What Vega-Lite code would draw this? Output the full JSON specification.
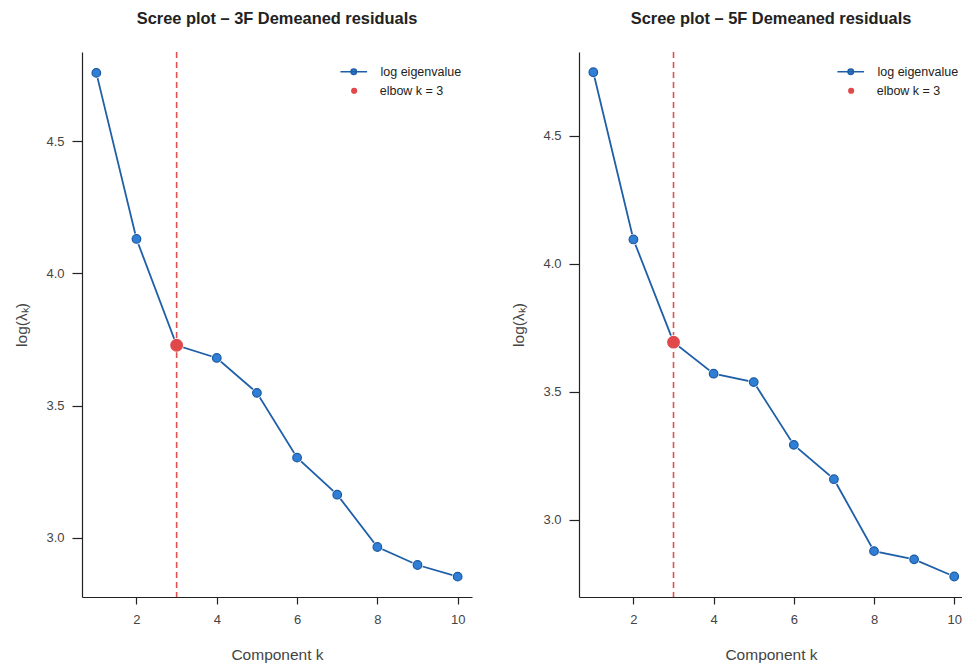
{
  "$schema": "https://vega.github.io/schema/vega-lite/v6.json",
  "padding": {"left": 14, "top": 10, "right": 0, "bottom": 0},
  "background": "white",
  "bounds": "flush",
  "spacing": 107,
  "datasets": {
    "left": [
      {"k": 1, "v": 4.758, "series": "log eigenvalue"},
      {"k": 2, "v": 4.130, "series": "log eigenvalue"},
      {"k": 3, "v": 3.728, "series": "log eigenvalue"},
      {"k": 4, "v": 3.680, "series": "log eigenvalue"},
      {"k": 5, "v": 3.548, "series": "log eigenvalue"},
      {"k": 6, "v": 3.303, "series": "log eigenvalue"},
      {"k": 7, "v": 3.163, "series": "log eigenvalue"},
      {"k": 8, "v": 2.965, "series": "log eigenvalue"},
      {"k": 9, "v": 2.897, "series": "log eigenvalue"},
      {"k": 10, "v": 2.853, "series": "log eigenvalue"},
      {"k": 3, "v": 3.728, "series": "elbow k = 3"}
    ],
    "right": [
      {"k": 1, "v": 4.748, "series": "log eigenvalue"},
      {"k": 2, "v": 4.095, "series": "log eigenvalue"},
      {"k": 3, "v": 3.694, "series": "log eigenvalue"},
      {"k": 4, "v": 3.571, "series": "log eigenvalue"},
      {"k": 5, "v": 3.538, "series": "log eigenvalue"},
      {"k": 6, "v": 3.293, "series": "log eigenvalue"},
      {"k": 7, "v": 3.159, "series": "log eigenvalue"},
      {"k": 8, "v": 2.878, "series": "log eigenvalue"},
      {"k": 9, "v": 2.846, "series": "log eigenvalue"},
      {"k": 10, "v": 2.779, "series": "log eigenvalue"},
      {"k": 3, "v": 3.694, "series": "elbow k = 3"}
    ]
  },
  "config": {
    "font": "Liberation Sans",
    "view": {"stroke": null},
    "axis": {
      "grid": false,
      "domainColor": "#222",
      "tickColor": "#222",
      "labelColor": "#444",
      "titleColor": "#444",
      "labelFont": "Liberation Sans",
      "titleFont": "Liberation Sans",
      "labelFontSize": 13,
      "titleFontSize": 15.5,
      "titleFontWeight": "normal",
      "domainWidth": 1.2,
      "tickWidth": 1.2
    },
    "axisX": {"tickSize": 7, "labelPadding": 9, "titlePadding": 21},
    "axisY": {"tickSize": 10, "labelPadding": 8, "titlePadding": 16},
    "title": {"fontSize": 16.4, "fontWeight": "bold", "color": "#222", "font": "Liberation Sans", "offset": 24},
    "legend": {
      "padding": 0,
      "rowPadding": 0,
      "labelFontSize": 12.5,
      "labelColor": "#222",
      "labelFont": "Liberation Sans"
    }
  },
  "resolve": {
    "scale": {"color": "independent", "shape": "independent"},
    "legend": {"color": "independent", "shape": "independent"}
  },
  "hconcat": [
    {
      "title": "Scree plot – 3F Demeaned residuals",
      "width": 390,
      "height": 545,
      "data": {"name": "left"},
      "layer": [
        {
          "transform": [{"filter": "datum.series === 'elbow k = 3'"}],
          "mark": {"type": "rule", "color": "#e05252", "strokeDash": [6, 4], "strokeWidth": 1.6},
          "encoding": {
            "x": {"field": "k", "type": "quantitative", "scale": {"domain": [0.643, 10.357], "nice": false, "zero": false}}
          }
        },
        {
          "transform": [{"filter": "datum.series === 'log eigenvalue'"}],
          "mark": {"type": "line", "color": "#1f5fa8", "strokeWidth": 1.8},
          "encoding": {
            "x": {"field": "k", "type": "quantitative", "scale": {"domain": [0.643, 10.357], "nice": false, "zero": false}, "axis": {"values": [2, 4, 6, 8, 10], "title": "Component k"}},
            "y": {"field": "v", "type": "quantitative", "scale": {"domain": [2.776, 4.837], "nice": false, "zero": false}, "axis": {"values": [3, 3.5, 4, 4.5], "format": ".1f", "title": "log(λₖ)"}}
          }
        },
        {
          "transform": [{"filter": "datum.series === 'log eigenvalue'"}],
          "mark": {"type": "point", "filled": true, "fill": "white", "stroke": "white", "strokeWidth": 2.6, "opacity": 1, "size": 74},
          "encoding": {
            "x": {"field": "k", "type": "quantitative"},
            "y": {"field": "v", "type": "quantitative"}
          }
        },
        {
          "transform": [{"filter": "datum.series === 'log eigenvalue'"}],
          "mark": {"type": "point", "filled": true, "stroke": "#1e5aa0", "strokeWidth": 1.2, "opacity": 1, "size": 74},
          "encoding": {
            "x": {"field": "k", "type": "quantitative"},
            "y": {"field": "v", "type": "quantitative"},
            "color": {
              "field": "series", "type": "nominal",
              "scale": {"domain": ["log eigenvalue"], "range": ["#2f7fd6"]},
              "legend": {
                "title": null,
                "orient": "none",
                "legendX": 265.5,
                "legendY": 13.5,
                "symbolType": "M-3.81,0H3.81M0.77,0A0.77,0.77,0,1,1,-0.77,0A0.77,0.77,0,1,1,0.77,0Z",
                "symbolSize": 49,
                "symbolStrokeColor": "#1f5fa8",
                "symbolStrokeWidth": 1.6,
                "labelOffset": 20.5
              }
            }
          }
        },
        {
          "transform": [{"filter": "datum.series === 'elbow k = 3'"}],
          "mark": {"type": "point", "filled": true, "fill": "white", "stroke": "white", "strokeWidth": 2.6, "opacity": 1, "size": 135},
          "encoding": {
            "x": {"field": "k", "type": "quantitative"},
            "y": {"field": "v", "type": "quantitative"}
          }
        },
        {
          "transform": [{"filter": "datum.series === 'elbow k = 3'"}],
          "mark": {"type": "point", "filled": true, "fill": "#e0484a", "stroke": "#e0484a", "strokeWidth": 1.2, "opacity": 1, "size": 135},
          "encoding": {
            "x": {"field": "k", "type": "quantitative"},
            "y": {"field": "v", "type": "quantitative"},
            "shape": {
              "field": "series", "type": "nominal",
              "scale": {"domain": ["elbow k = 3"], "range": ["circle"]},
              "legend": {
                "title": null,
                "orient": "none",
                "legendX": 265.9,
                "legendY": 32.5,
                "symbolSize": 38,
                "symbolFillColor": "#e0484a",
                "symbolStrokeColor": "#e0484a",
                "symbolStrokeWidth": 0,
                "labelOffset": 19.3
              }
            }
          }
        }
      ]
    },
    {
      "title": "Scree plot – 5F Demeaned residuals",
      "width": 384,
      "height": 545,
      "data": {"name": "right"},
      "layer": [
        {
          "transform": [{"filter": "datum.series === 'elbow k = 3'"}],
          "mark": {"type": "rule", "color": "#e05252", "strokeDash": [6, 4], "strokeWidth": 1.6},
          "encoding": {
            "x": {"field": "k", "type": "quantitative", "scale": {"domain": [0.643, 10.219], "nice": false, "zero": false}}
          }
        },
        {
          "transform": [{"filter": "datum.series === 'log eigenvalue'"}],
          "mark": {"type": "line", "color": "#1f5fa8", "strokeWidth": 1.8},
          "encoding": {
            "x": {"field": "k", "type": "quantitative", "scale": {"domain": [0.643, 10.219], "nice": false, "zero": false}, "axis": {"values": [2, 4, 6, 8, 10], "title": "Component k"}},
            "y": {"field": "v", "type": "quantitative", "scale": {"domain": [2.699, 4.827], "nice": false, "zero": false}, "axis": {"values": [3, 3.5, 4, 4.5], "format": ".1f", "title": "log(λₖ)"}}
          }
        },
        {
          "transform": [{"filter": "datum.series === 'log eigenvalue'"}],
          "mark": {"type": "point", "filled": true, "fill": "white", "stroke": "white", "strokeWidth": 2.6, "opacity": 1, "size": 74},
          "encoding": {
            "x": {"field": "k", "type": "quantitative"},
            "y": {"field": "v", "type": "quantitative"}
          }
        },
        {
          "transform": [{"filter": "datum.series === 'log eigenvalue'"}],
          "mark": {"type": "point", "filled": true, "stroke": "#1e5aa0", "strokeWidth": 1.2, "opacity": 1, "size": 74},
          "encoding": {
            "x": {"field": "k", "type": "quantitative"},
            "y": {"field": "v", "type": "quantitative"},
            "color": {
              "field": "series", "type": "nominal",
              "scale": {"domain": ["log eigenvalue"], "range": ["#2f7fd6"]},
              "legend": {
                "title": null,
                "orient": "none",
                "legendX": 265.5,
                "legendY": 13.5,
                "symbolType": "M-3.81,0H3.81M0.77,0A0.77,0.77,0,1,1,-0.77,0A0.77,0.77,0,1,1,0.77,0Z",
                "symbolSize": 49,
                "symbolStrokeColor": "#1f5fa8",
                "symbolStrokeWidth": 1.6,
                "labelOffset": 20.5
              }
            }
          }
        },
        {
          "transform": [{"filter": "datum.series === 'elbow k = 3'"}],
          "mark": {"type": "point", "filled": true, "fill": "white", "stroke": "white", "strokeWidth": 2.6, "opacity": 1, "size": 135},
          "encoding": {
            "x": {"field": "k", "type": "quantitative"},
            "y": {"field": "v", "type": "quantitative"}
          }
        },
        {
          "transform": [{"filter": "datum.series === 'elbow k = 3'"}],
          "mark": {"type": "point", "filled": true, "fill": "#e0484a", "stroke": "#e0484a", "strokeWidth": 1.2, "opacity": 1, "size": 135},
          "encoding": {
            "x": {"field": "k", "type": "quantitative"},
            "y": {"field": "v", "type": "quantitative"},
            "shape": {
              "field": "series", "type": "nominal",
              "scale": {"domain": ["elbow k = 3"], "range": ["circle"]},
              "legend": {
                "title": null,
                "orient": "none",
                "legendX": 265.9,
                "legendY": 32.5,
                "symbolSize": 38,
                "symbolFillColor": "#e0484a",
                "symbolStrokeColor": "#e0484a",
                "symbolStrokeWidth": 0,
                "labelOffset": 19.3
              }
            }
          }
        }
      ]
    }
  ]
}
